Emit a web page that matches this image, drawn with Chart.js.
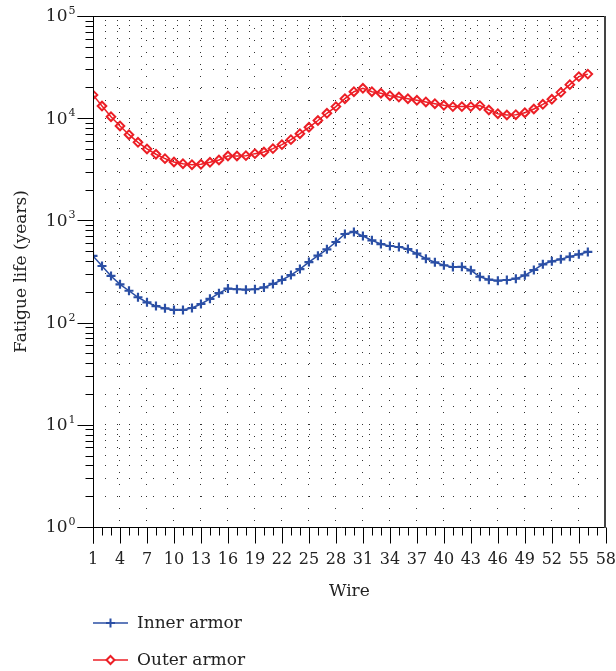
<!DOCTYPE html>
<html>
<head>
<meta charset="utf-8">
<script src="https://cdn.jsdelivr.net/npm/chart.js@4.4.0/dist/chart.umd.min.js"></script>
<style>
  html,body{margin:0;padding:0;background:#fff}
  #wrap{width:616px;height:671px}
</style>
</head>
<body>
<div id="wrap"><canvas id="chart" width="616" height="671"></canvas></div>
<script>
// data (fatigue life per wire, years)
const wires = [1,2,3,4,5,6,7,8,9,10,11,12,13,14,15,16,17,18,19,20,21,22,23,24,25,26,27,28,
  29,30,31,32,33,34,35,36,37,38,39,40,41,42,43,44,45,46,47,48,49,50,51,52,53,54,55,56];
const innerArmor = [449,358,286,237,205,177,158,145,138,133,133,139,152,171,194,215,212,210,212,221,
  239,261,292,334,391,452,521,615,736,771,704,638,587,562,549,525,472,422,389,364,
  350,352,325,281,263,257,261,269,290,327,372,398,416,442,466,491];
const outerArmor = [16900,13150,10350,8400,6900,5810,5000,4440,4020,3725,3590,3510,3540,3700,3900,4270,4270,4300,4500,4670,
  5040,5510,6170,7050,8150,9500,11170,12980,15520,18170,19600,18170,17540,16610,16110,15520,14970,14420,13870,13370,
  12980,12980,12980,13270,12030,11070,10740,10830,11320,12300,13680,15300,17900,21300,25500,27000];
const xMin = 1, xMax = 58, xLabelStep = 3;
const yDecades = [1,10,100,1000,10000,100000];
const yExponents = ['0','1','2','3','4','5'];

const BLUE = '#2b4fa5';
const RED = '#ec1f26';
const GRID = 'rgba(0,0,0,0.8)';
const FONT = '"DejaVu Serif", serif';

const isMajorX = v => (v - xMin) % xLabelStep === 0;

// axes frame, tick marks, 10^n labels and the legend, drawn on top of chart.js scales
const framePlugin = {
  id: 'frame',
  afterDraw(chart){
    const {ctx, chartArea:a, scales:{x, y}} = chart;
    const line = (x1,y1,x2,y2)=>{ ctx.beginPath(); ctx.moveTo(x1,y1); ctx.lineTo(x2,y2); ctx.stroke(); };
    ctx.save();
    ctx.strokeStyle = '#000'; ctx.lineWidth = 1;
    const L = Math.round(a.left)+0.5, B = Math.round(a.bottom)+0.5, T = Math.round(a.top)+0.5, R = Math.round(a.right)-0.5;
    line(L-16, T, R, T);
    line(L-16, B, R+0.5, B);
    line(L, T, L, B+16);
    // y ticks
    yDecades.forEach((d, k)=>{
      for(let m=1;m<=9;m++){
        const v = m*d; if(v > yDecades[yDecades.length-1]) break;
        const py = Math.round(y.getPixelForValue(v))+0.5;
        line(L-(m===1?16:8), py, L, py);
      }
    });
    // x ticks
    for(let v=xMin; v<=xMax; v++){
      const px = Math.round(x.getPixelForValue(v))+0.5;
      line(px, B, px, B+(isMajorX(v)?16:8));
    }
    // right border
    ctx.strokeStyle = '#444'; ctx.lineWidth = 2;
    line(Math.round(a.right)-1, T-0.5, Math.round(a.right)-1, B+0.5);
    // y labels 10^n
    ctx.fillStyle = '#222';
    yDecades.forEach((d,k)=>{
      const py = y.getPixelForValue(d);
      ctx.font = '17px ' + FONT; ctx.textAlign = 'right'; ctx.textBaseline = 'middle';
      ctx.fillText('10', L-26, py+1);
      ctx.font = '11px ' + FONT; ctx.textAlign = 'left'; ctx.textBaseline = 'alphabetic';
      ctx.fillText(yExponents[k], L-25, py-2);
    });
    // legend
    chart.data.datasets.forEach((ds, i)=>{
      const ly = 623 + i*37, lx0 = 93, lx1 = 128, mx = (lx0+lx1)/2;
      ctx.strokeStyle = ds.borderColor; ctx.lineWidth = 1.5;
      line(lx0, ly, lx1, ly);
      ctx.lineWidth = 2;
      ctx.beginPath();
      if(ds.pointStyle === 'cross'){
        ctx.moveTo(mx-4.5, ly); ctx.lineTo(mx+4.5, ly); ctx.moveTo(mx, ly-4.5); ctx.lineTo(mx, ly+4.5);
      } else {
        ctx.moveTo(mx-4, ly); ctx.lineTo(mx, ly-4); ctx.lineTo(mx+4, ly); ctx.lineTo(mx, ly+4); ctx.closePath();
        ctx.fillStyle = '#fff'; ctx.fill();
      }
      ctx.stroke();
      ctx.fillStyle = '#222'; ctx.font = '17px ' + FONT; ctx.textAlign = 'left'; ctx.textBaseline = 'middle';
      ctx.fillText(ds.label, 137, ly+1);
    });
    ctx.restore();
  }
};

new Chart(document.getElementById('chart'), {
  type: 'line',
  data: {
    datasets: [
      { label: 'Inner armor', data: wires.map((w,i)=>({x:w, y:innerArmor[i]})),
        borderColor: BLUE, borderWidth: 1.5, tension: 0,
        pointStyle: 'cross', pointRadius: 4.5, pointBorderWidth: 2.2, pointBorderColor: BLUE, pointBackgroundColor: BLUE },
      { label: 'Outer armor', data: wires.map((w,i)=>({x:w, y:outerArmor[i]})),
        borderColor: RED, borderWidth: 1.5, tension: 0,
        pointStyle: 'rectRot', pointRadius: 4.3, pointBorderWidth: 2, pointBorderColor: RED, pointBackgroundColor: 'rgba(255,255,255,0)' }
    ]
  },
  options: {
    responsive: false, animation: false, devicePixelRatio: 1,
    layout: { padding: { top: 16, right: 0, left: 0, bottom: 69 } },
    plugins: { legend: { display: false }, tooltip: { enabled: false } },
    scales: {
      x: {
        type: 'linear', min: xMin, max: xMax,
        afterFit: s => { s.height = 75; },
        grid: { color: c => (c.tick && isMajorX(c.tick.value)) ? GRID : 'rgba(0,0,0,0)', lineWidth: 1,
                drawTicks: true, tickLength: 23, tickColor: 'rgba(0,0,0,0)' },
        border: { display: false, dash: [1, 11] },
        ticks: { stepSize: 1, autoSkip: false, maxRotation: 0, padding: 0, color: '#222',
                 font: { family: FONT, size: 16 },
                 callback: v => isMajorX(v) ? String(v) : '' },
        title: { display: true, text: 'Wire', color: '#222', font: { family: FONT, size: 17 }, padding: { top: 0, bottom: 0 } }
      },
      y: {
        type: 'logarithmic', min: yDecades[0], max: yDecades[yDecades.length-1],
        afterFit: s => { s.width = 93; },
        grid: { color: GRID, lineWidth: 1, drawTicks: false },
        border: { display: false, dash: [1, 11] },
        ticks: { display: false },
        title: { display: true, text: 'Fatigue life (years)', color: '#222', font: { family: FONT, size: 17 }, padding: { top: 11, bottom: 0 } }
      }
    }
  },
  plugins: [framePlugin]
});
</script>
</body>
</html>
